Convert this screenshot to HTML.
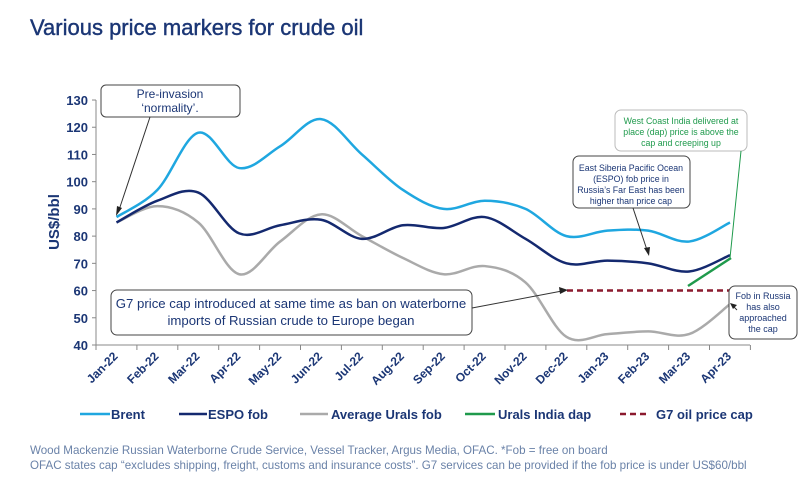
<!DOCTYPE html>
<html><head><meta charset="utf-8"><style>
body{margin:0;background:#fff;width:800px;height:480px;overflow:hidden;font-family:"Liberation Sans",sans-serif}
</style></head><body>
<svg id="s" width="800" height="480" xmlns="http://www.w3.org/2000/svg" font-family="Liberation Sans, sans-serif">
<text x="30" y="35" font-size="22" fill="#1b3675" stroke="#1b3675" stroke-width="0.4">Various price markers for crude oil</text>
<g id="yax" font-size="13" font-weight="bold" fill="#1b3675" text-anchor="end"></g>
<text transform="translate(59,222) rotate(-90)" font-size="15" font-weight="bold" fill="#1b3675" text-anchor="middle">US$/bbl</text>
<line x1="96" y1="100" x2="96" y2="345" stroke="#888" stroke-width="1"/>
<line x1="96" y1="345" x2="750" y2="345" stroke="#888" stroke-width="1"/>
<g id="xt"></g>
<g id="ser"></g>
<g font-size="12" fill="#1b3675" text-anchor="middle">
<rect x="101" y="85" width="139" height="32" rx="5" fill="#fff" stroke="#444"/>
<text x="170" y="98">Pre-invasion</text><text x="170" y="112">‘normality’.</text>
<line x1="150" y1="117" x2="119" y2="210" stroke="#333"/>
<path d="M116,216 L117,206 L122,208 Z" fill="#222"/>
<rect x="111" y="290" width="361" height="45" rx="6" fill="#fff" stroke="#444"/>
<text x="291" y="308" font-size="13.2">G7 price cap introduced at same time as ban on waterborne</text>
<text x="291" y="325" font-size="13.2">imports of Russian crude to Europe began</text>
<line x1="472" y1="308" x2="562" y2="291" stroke="#333"/>
<path d="M568,290 L559,287 L560,294 Z" fill="#222"/>
<rect x="573" y="156" width="117" height="52" rx="6" fill="#fff" stroke="#444"/>
<g font-size="8.8"><text x="631" y="171">East Siberia Pacific Ocean</text><text x="631" y="182">(ESPO) fob price in</text><text x="631" y="193">Russia’s Far East has been</text><text x="631" y="204">higher than price cap</text></g>
<line x1="633" y1="208" x2="647" y2="250" stroke="#333"/>
<path d="M649,256 L644,248 L650,247 Z" fill="#222"/>
<rect x="615" y="110" width="132" height="41" rx="6" fill="#fff" stroke="#bbb"/>
<g font-size="8.8" fill="#1f9a4c"><text x="681" y="124">West Coast India delivered at</text><text x="681" y="135">place (dap) price is above the</text><text x="681" y="146">cap and creeping up</text></g>
<line x1="741" y1="151" x2="730" y2="258" stroke="#1f9a4c"/>
<rect x="729" y="286" width="68" height="53" rx="6" fill="#fff" stroke="#444"/>
<g font-size="9"><text x="763" y="299">Fob in Russia</text><text x="763" y="310">has also</text><text x="763" y="321">approached</text><text x="763" y="332">the cap</text></g>
<line x1="737" y1="310" x2="733" y2="306" stroke="#333"/>
<path d="M730,303 L737,305 L733,309 Z" fill="#222"/>
</g>
<g font-size="13" font-weight="bold" fill="#1b3675">
<line x1="80" y1="414" x2="110" y2="414" stroke="#1fa7e0" stroke-width="2.5"/><text x="111" y="419">Brent</text>
<line x1="179" y1="414" x2="207" y2="414" stroke="#14296f" stroke-width="2.5"/><text x="208" y="419">ESPO fob</text>
<line x1="300" y1="414" x2="328" y2="414" stroke="#aaa" stroke-width="2.5"/><text x="331" y="419">Average Urals fob</text>
<line x1="465" y1="414" x2="495" y2="414" stroke="#1f9a4c" stroke-width="2.5"/><text x="498" y="419">Urals India dap</text>
<line x1="620" y1="414" x2="650" y2="414" stroke="#8b1a2e" stroke-width="2.5" stroke-dasharray="6,4"/><text x="656" y="419">G7 oil price cap</text>
</g>
<g font-size="11.6" fill="#6a82a8">
<text x="30" y="454">Wood Mackenzie Russian Waterborne Crude Service, Vessel Tracker, Argus Media, OFAC. *Fob = free on board</text>
<text x="30" y="469">OFAC states cap “excludes shipping, freight, customs and insurance costs”. G7 services can be provided if the fob price is under US$60/bbl</text>
</g>
</svg>
<script>
var NS="http://www.w3.org/2000/svg";
function el(t,a,p,txt){var e=document.createElementNS(NS,t);for(var k in a)e.setAttribute(k,a[k]);if(txt)e.textContent=txt;document.getElementById(p).appendChild(e);return e;}
function Y(v){return 345-(v-40)*2.722;}
function X(i){return 116.5+40.9*i;}
for(var v=40;v<=130;v+=10){el("text",{x:88,y:Y(v)+5},"yax",""+v);el("line",{x1:92,y1:Y(v),x2:96,y2:Y(v),stroke:"#888"},"yax");}
var m=["Jan-22","Feb-22","Mar-22","Apr-22","May-22","Jun-22","Jul-22","Aug-22","Sep-22","Oct-22","Nov-22","Dec-22","Jan-23","Feb-23","Mar-23","Apr-23"];
for(var i=0;i<=16;i++)el("line",{x1:96+40.9*i,y1:345,x2:96+40.9*i,y2:350,stroke:"#888"},"xt");
for(var i=0;i<16;i++)el("text",{x:X(i)+2,y:357,"font-size":12,"font-weight":"bold",fill:"#1b3675","text-anchor":"end",transform:"rotate(-45 "+(X(i)+2)+" 357)"},"xt",m[i]);
function path(d){var p=d.map(function(v,i){return[X(i),Y(v)]});var s="M"+p[0][0]+","+p[0][1];
for(var i=0;i<p.length-1;i++){var p0=p[i-1]||p[i],p1=p[i],p2=p[i+1],p3=p[i+2]||p2;
s+=" C"+(p1[0]+(p2[0]-p0[0])/6)+","+(p1[1]+(p2[1]-p0[1])/6)+" "+(p2[0]-(p3[0]-p1[0])/6)+","+(p2[1]-(p3[1]-p1[1])/6)+" "+p2[0]+","+p2[1];}return s;}
el("path",{d:path([85,91,85,66,78,88,80,72,66,69,63,43,44,45,44,55]),fill:"none",stroke:"#aaa","stroke-width":2.5},"ser");
el("path",{d:path([85,93,96,81,84,86,79,84,83,87,79,70,71,70,67,73]),fill:"none",stroke:"#14296f","stroke-width":2.5},"ser");
el("path",{d:path([87,97,118,105,113,123,110,97,90,93,90,80,82,82,78,85]),fill:"none",stroke:"#1fa7e0","stroke-width":2.5},"ser");
el("line",{x1:567,y1:Y(60),x2:731,y2:Y(60),stroke:"#8b1a2e","stroke-width":2.5,"stroke-dasharray":"6,4"},"ser");
el("line",{x1:688,y1:286,x2:731,y2:258,stroke:"#1f9a4c","stroke-width":2.5},"ser");
</script>
</body></html>
